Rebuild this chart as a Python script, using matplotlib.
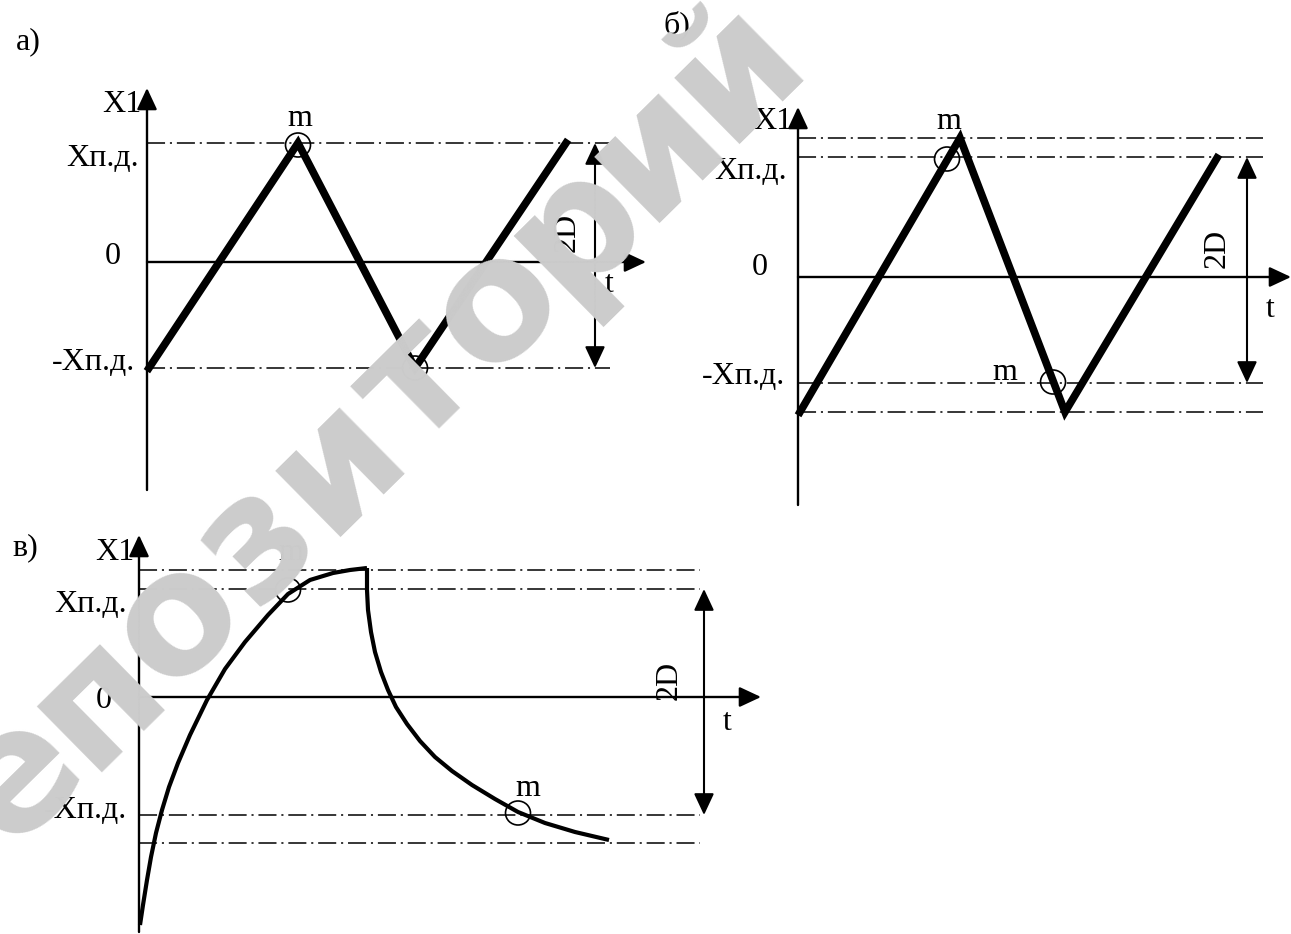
"""
Phase diagrams of the relay-type output X1 for three transients:
а) symmetric triangular sweep, б) overshooting triangular sweep,
в) exponential rise / decay with overshoot.
Diagram units are 100 px per unit, origin at each panel's axis crossing.
"""

import numpy as np
import matplotlib.pyplot as plt
from matplotlib.patches import Ellipse

W, H = 1291, 934
DPI = 100
PX = 100.0  # pixels per diagram unit

plt.rcParams['font.family'] = ['Liberation Serif', 'DejaVu Serif']
plt.rcParams['lines.scale_dashes'] = False

FS = 23  # label font size

# ---------------------------------------------------------------------------
# panel а
# ---------------------------------------------------------------------------
A_ORIGIN = (147, 262)
A_AXIS_Y = (-2.28, 1.74)
A_AXIS_T = 4.99
A_LEVELS = [1.19, -1.06]
A_LEVEL_END = 4.63
A_T = [0.02, 1.51, 2.68, 4.19]
A_X = [-1.06, 1.19, -1.06, 1.19]
A_MARK_T = [1.51, 2.68]
A_MARK_X = [1.17, -1.06]
A_SPAN_T = 4.48

# ---------------------------------------------------------------------------
# panel б
# ---------------------------------------------------------------------------
B_ORIGIN = (798, 277)
B_AXIS_Y = (-2.28, 1.70)
B_AXIS_T = 4.93
B_LEVELS = [1.39, 1.20, -1.06, -1.35]
B_LEVEL_END = 4.65
B_T = [0.02, 1.62, 2.67, 4.19]
B_X = [-1.35, 1.39, -1.35, 1.19]
B_MARK_T = [1.49, 2.55]
B_MARK_X = [1.18, -1.05]
B_SPAN_T = 4.49

# ---------------------------------------------------------------------------
# panel в
# ---------------------------------------------------------------------------
C_ORIGIN = (139, 697)
C_AXIS_Y = (-2.35, 1.62)
C_AXIS_T = 6.22
C_LEVELS = [1.27, 1.08, -1.18, -1.46]
C_LEVEL_END = 5.61
C_RISE_T = [0.01, 0.04, 0.08, 0.12, 0.17, 0.23, 0.30, 0.39, 0.51, 0.68,
            0.86, 1.06, 1.29, 1.49, 1.71, 1.94, 2.11, 2.28]
C_RISE_X = [-2.28, -2.08, -1.83, -1.60, -1.36, -1.13, -0.90, -0.66, -0.38,
            -0.03, 0.28, 0.55, 0.82, 1.03, 1.17, 1.24, 1.27, 1.29]
C_FALL_T = [2.28, 2.28, 2.29, 2.32, 2.36, 2.42, 2.49, 2.57, 2.68, 2.81,
            2.96, 3.13, 3.33, 3.56, 3.79, 4.06, 4.36, 4.70]
C_FALL_X = [1.29, 1.07, 0.87, 0.65, 0.45, 0.25, 0.07, -0.10, -0.27, -0.44,
            -0.60, -0.74, -0.88, -1.02, -1.15, -1.26, -1.35, -1.43]
C_MARK_T = [1.49, 3.79]
C_MARK_X = [1.07, -1.16]
C_SPAN_T = 5.65

DASHDOT = (13, 3.5, 1.5, 3.5)

# diagonal stamp laid letter by letter (tight tracking)
STAMP = 'репозиторий'
STAMP_MID = (336, 462)   # px, centre of the 6th letter
STAMP_STEP = 112.0       # px between letter centres
STAMP_ANGLE = 44.6
STAMP_SIZE = 122


def panel(fig, origin):
    """Full-figure transparent axes whose (0, 0) sits at pixel `origin`."""
    ox, oy = origin
    ax = fig.add_axes([0, 0, 1, 1])
    ax.set_xlim(-ox / PX, (W - ox) / PX)
    ax.set_ylim(-(H - oy) / PX, oy / PX)
    ax.axis('off')
    ax.patch.set_alpha(0)
    return ax


def arrow(ax, start, tip, style='-|>', lw=1.7):
    ax.annotate('', xy=tip, xytext=start,
                arrowprops=dict(arrowstyle=style + ',head_length=0.6,head_width=0.28',
                                lw=lw, color='k', shrinkA=0, shrinkB=0,
                                mutation_scale=22))


def axes_frame(ax, y_range, t_end, levels, level_end, span_t, span):
    arrow(ax, (0, y_range[0]), (0, y_range[1]))
    arrow(ax, (0, 0), (t_end, 0))
    for lvl in levels:
        ax.plot([0, level_end], [lvl, lvl], color='k', lw=1.1, dashes=DASHDOT)
    arrow(ax, (span_t, span[0]), (span_t, span[1]), style='<|-|>', lw=1.5)


def marks(ax, ts, xs, w=0.25, h=0.24):
    for t, x in zip(ts, xs):
        ax.add_patch(Ellipse((t, x), w, h, fill=False, lw=1.2, color='k'))


def txt(ax, x, y, s, **kw):
    kw.setdefault('ha', 'center')
    kw.setdefault('va', 'center')
    ax.text(x, y, s, fontsize=FS, **kw)


fig = plt.figure(figsize=(W / DPI, H / DPI), dpi=DPI)

# а)
ax = panel(fig, A_ORIGIN)
axes_frame(ax, A_AXIS_Y, A_AXIS_T, A_LEVELS, A_LEVEL_END, A_SPAN_T,
           (A_LEVELS[1], A_LEVELS[0]))
ax.plot(A_T, A_X, color='k', lw=5.5, solid_joinstyle='miter')
marks(ax, A_MARK_T, A_MARK_X)
txt(ax, -1.19, 2.20, 'а)')
txt(ax, -0.25, 1.58, 'X1')
txt(ax, 1.53, 1.43, 'm')
txt(ax, -0.08, 1.04, 'Xп.д.', ha='right')
txt(ax, -0.34, 0.06, '0')
txt(ax, -0.12, -1.00, '-Xп.д.', ha='right')
txt(ax, 4.20, 0.30, '2D', rotation=90)
txt(ax, 4.62, -0.22, 't')

# б)
ax = panel(fig, B_ORIGIN)
axes_frame(ax, B_AXIS_Y, B_AXIS_T, B_LEVELS, B_LEVEL_END, B_SPAN_T,
           (B_LEVELS[2], B_LEVELS[1]))
ax.plot(B_T, B_X, color='k', lw=5.5, solid_joinstyle='miter')
marks(ax, B_MARK_T, B_MARK_X)
txt(ax, -1.21, 2.52, 'б)')
txt(ax, -0.25, 1.55, 'X1')
txt(ax, 1.51, 1.55, 'm')
txt(ax, -0.11, 1.05, 'Xп.д.', ha='right')
txt(ax, -0.38, 0.09, '0')
txt(ax, -0.13, -1.00, '-Xп.д.', ha='right')
txt(ax, 2.07, -0.96, 'm')
txt(ax, 4.19, 0.29, '2D', rotation=90)
txt(ax, 4.72, -0.33, 't')

# в)
ax = panel(fig, C_ORIGIN)
axes_frame(ax, C_AXIS_Y, C_AXIS_T, C_LEVELS, C_LEVEL_END, C_SPAN_T,
           (C_LEVELS[2], C_LEVELS[1]))
ax.plot(C_RISE_T, C_RISE_X, color='k', lw=3.0,
        solid_joinstyle='round', solid_capstyle='butt')
ax.plot(C_FALL_T, C_FALL_X, color='k', lw=3.0,
        solid_joinstyle='round', solid_capstyle='butt')
marks(ax, C_MARK_T, C_MARK_X)
txt(ax, -1.14, 1.49, 'в)')
txt(ax, -0.24, 1.45, 'X1')
txt(ax, 1.52, 1.44, 'm')
txt(ax, -0.12, 0.93, 'Xп.д.', ha='right')
txt(ax, -0.35, -0.03, '0')
txt(ax, -0.12, -1.13, '-Xп.д.', ha='right')
txt(ax, 3.89, -0.91, 'm')
txt(ax, 5.30, 0.17, '2D', rotation=90)
txt(ax, 5.88, -0.25, 't')

# stamp drawn over everything, one glyph at a time along the diagonal
ang = np.radians(STAMP_ANGLE)
ux, uy = np.cos(ang), -np.sin(ang)      # along the baseline (y down)
nx, ny = np.sin(ang), np.cos(ang)       # towards the baseline
drop = 0.28 * STAMP_SIZE * DPI / 72     # x-height centre above baseline
mid = len(STAMP) // 2
for i, ch in enumerate(STAMP):
    k = i - mid
    cx = STAMP_MID[0] + k * STAMP_STEP * ux + drop * nx
    cy = STAMP_MID[1] + k * STAMP_STEP * uy + drop * ny
    fig.text(cx / W, 1 - cy / H, ch, rotation=STAMP_ANGLE,
             rotation_mode='anchor', ha='center', va='baseline',
             fontsize=STAMP_SIZE, fontweight='bold', family='DejaVu Sans',
             color='#cccccc', zorder=10)

fig.savefig('out.png', dpi=DPI)
